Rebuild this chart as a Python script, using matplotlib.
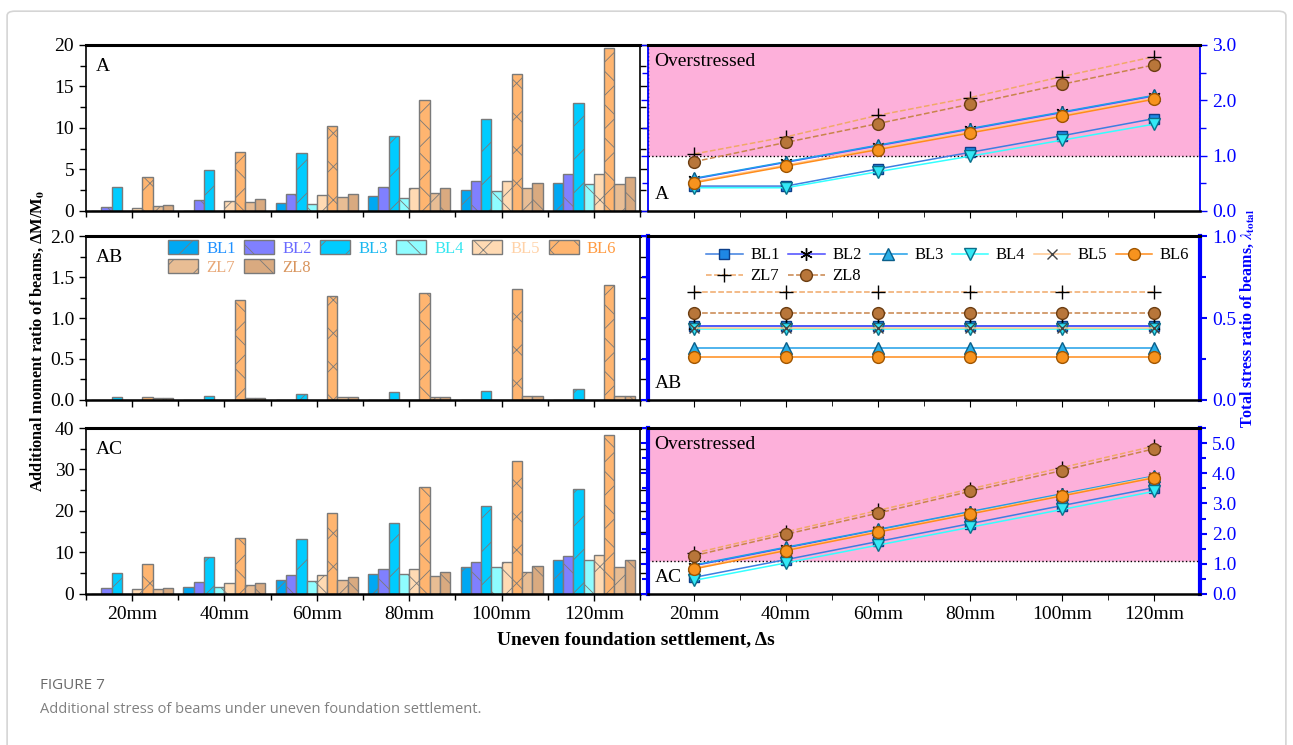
import numpy as np
import matplotlib.pyplot as plt
from matplotlib.patches import Rectangle, Patch, FancyBboxPatch
from matplotlib.ticker import MultipleLocator

plt.rcParams['font.family'] = 'Liberation Serif'
plt.rcParams['mathtext.fontset'] = 'stix'
plt.rcParams['hatch.linewidth'] = 0.6

settle = ['20mm', '40mm', '60mm', '80mm', '100mm', '120mm']
beams = ['BL1', 'BL2', 'BL3', 'BL4', 'BL5', 'BL6', 'ZL7', 'ZL8']

# additional moment ratio dM/M0, one row per beam
dm_A = [
    [0.0, 0.0, 0.97, 1.81, 2.54, 3.39],
    [0.48, 1.29, 2.10, 2.90, 3.67, 4.44],
    [2.86, 4.92, 6.98, 9.07, 11.05, 13.06],
    [0.0, 0.0, 0.81, 1.57, 2.38, 3.23],
    [0.32, 1.17, 1.94, 2.78, 3.59, 4.44],
    [4.07, 7.14, 10.24, 13.39, 16.49, 19.60],
    [0.56, 1.09, 1.69, 2.18, 2.78, 3.31],
    [0.73, 1.41, 2.02, 2.74, 3.39, 4.07],
]
dm_AB = [
    [0.005, 0.005, 0.005, 0.005, 0.005, 0.005],
    [0.005, 0.005, 0.005, 0.005, 0.005, 0.005],
    [0.037, 0.053, 0.074, 0.098, 0.115, 0.135],
    [0.005, 0.005, 0.005, 0.005, 0.005, 0.005],
    [0.005, 0.005, 0.005, 0.005, 0.005, 0.005],
    [0.035, 1.217, 1.266, 1.307, 1.352, 1.397],
    [0.020, 0.025, 0.037, 0.041, 0.053, 0.053],
    [0.020, 0.025, 0.037, 0.041, 0.053, 0.053],
]
dm_AC = [
    [0.0, 1.77, 3.31, 4.92, 6.53, 8.15],
    [1.37, 2.90, 4.52, 6.13, 7.66, 9.11],
    [5.00, 9.03, 13.15, 17.10, 21.30, 25.30],
    [0.0, 1.61, 3.15, 4.92, 6.45, 8.15],
    [1.13, 2.74, 4.52, 5.97, 7.66, 9.35],
    [7.18, 13.47, 19.60, 25.80, 32.00, 38.20],
    [1.13, 2.26, 3.31, 4.35, 5.40, 6.45],
    [1.37, 2.74, 4.03, 5.40, 6.77, 8.15],
]

# total stress ratio lambda_total, one row per beam
lam_A = [
    [0.45, 0.45, 0.76, 1.06, 1.36, 1.67],
    [0.58, 0.88, 1.18, 1.48, 1.78, 2.08],
    [0.59, 0.89, 1.19, 1.49, 1.79, 2.09],
    [0.42, 0.42, 0.71, 0.99, 1.28, 1.57],
    [0.53, 0.83, 1.13, 1.43, 1.73, 2.04],
    [0.51, 0.81, 1.11, 1.41, 1.71, 2.02],
    [1.03, 1.34, 1.73, 2.05, 2.43, 2.79],
    [0.89, 1.24, 1.58, 1.93, 2.29, 2.64],
]
lam_AB = [
    [0.45] * 6,
    [0.45] * 6,
    [0.32] * 6,
    [0.43] * 6,
    [0.44] * 6,
    [0.26] * 6,
    [0.66] * 6,
    [0.53] * 6,
]
lam_AC = [
    [0.55, 1.14, 1.74, 2.33, 2.93, 3.52],
    [0.94, 1.53, 2.12, 2.71, 3.30, 3.89],
    [0.96, 1.55, 2.14, 2.73, 3.32, 3.91],
    [0.45, 1.03, 1.62, 2.21, 2.80, 3.40],
    [0.86, 1.47, 2.08, 2.68, 3.28, 3.88],
    [0.83, 1.44, 2.05, 2.65, 3.25, 3.85],
    [1.35, 2.06, 2.77, 3.48, 4.19, 4.90],
    [1.27, 1.98, 2.68, 3.40, 4.09, 4.81],
]
limit_A = 1.0
limit_AC = 1.1

bar_colors = ['#00a8f3', '#8080ff', '#00ccff', '#8ffcff',
              '#ffdab3', '#ffb570', '#e8bd94', '#d9aa80']
bar_hatch = ['/', '\\', '/', '\\', 'x', 'x', '/', '\\']
text_colors = ['#1e90ff', '#6a6aff', '#1ab8f0', '#35e6f0',
               '#ffd2a8', '#ff9a40', '#e8a878', '#d8955e']

line_colors = ['#3d7ee0', '#4a4aff', '#1f9fe8', '#33ffff',
               '#ffc890', '#ff8c1a', '#f0a868', '#c8844a']
mk = ['s', (6, 2, 0), '^', 'v', 'x', 'o', '+', 'o']
mk_face = ['#1e88e5', 'k', '#29aee6', '#33e8f5', 'k', '#f7931e', 'k', '#b8763a']
mk_edge = ['#0d3f8a', 'k', '#0b5f8a', '#0b6f8a', '#444444', '#a05500', 'k', '#6b3d12']
mk_size = [7, 9, 9, 9, 7, 8.5, 10, 8.5]
ls = ['-', '-', '-', '-', '-', '-', '--', '--']

# legend runs BL1..BL6 on the first row, ZL7/ZL8 below
leg_order = [0, 6, 1, 7, 2, 3, 4, 5]

pink = '#fdb0da'
blue = '#0000ff'

fig = plt.figure(figsize=(12.93, 7.45), dpi=100)

# frame around the whole figure
fig.patches.append(FancyBboxPatch((0.0055, -0.05), 0.989, 1.035,
                                  boxstyle='round,pad=0,rounding_size=0.006',
                                  transform=fig.transFigure, fill=False,
                                  edgecolor='#d5d5d5', lw=1.2))

rows = [(0.7168, 0.2228), (0.4631, 0.2201), (0.2027, 0.2228)]
lx, lw_ = 0.0665, 0.4285
rx, rw = 0.5012, 0.4270

x = np.arange(1, 7)
width = 0.111


def bar_panel(ax, data, ymax, major, tag, labels):
    for i in range(8):
        ax.bar(x + (i - 3.5) * width, data[i], width, color=bar_colors[i],
               edgecolor='#7a7a7a', lw=1.0, hatch=bar_hatch[i], zorder=2)
    ax.set_xlim(0.5, 6.5)
    ax.set_ylim(0, ymax)
    ax.yaxis.set_major_locator(MultipleLocator(major))
    ax.yaxis.set_minor_locator(MultipleLocator(major / 2))
    ax.set_xticks(x)
    ax.set_xticks(np.arange(0.5, 7, 1), minor=True)
    ax.tick_params(axis='both', which='both', direction='out', labelsize=14,
                   right=True, width=1.0)
    ax.tick_params(which='major', length=5)
    ax.tick_params(which='minor', length=4)
    if labels:
        ax.set_xticklabels(settle)
    else:
        ax.set_xticklabels([])
    ax.spines['top'].set_linewidth(2.2)
    ax.spines['bottom'].set_linewidth(1.8)
    ax.spines['left'].set_linewidth(1.2)
    ax.spines['right'].set_linewidth(1.2)
    ax.text(0.018, 0.87, tag, transform=ax.transAxes, fontsize=14, va='center')


def line_panel(ax, data, ymax, major, tag, limit, labels, thick):
    if limit is not None:
        ax.add_patch(Rectangle((0.5, limit), 6.0, ymax - limit, facecolor=pink,
                               edgecolor='k', lw=1.0, ls=':', zorder=0))
        ax.text(0.012, 0.9, 'Overstressed', transform=ax.transAxes,
                fontsize=14, va='center')
    for i in range(8):
        ax.plot(x, data[i], color=line_colors[i], ls=ls[i], lw=1.1,
                marker=mk[i], ms=mk_size[i], mfc=mk_face[i], mec=mk_edge[i],
                mew=1.0, label=beams[i], zorder=3)
    ax.set_xlim(0.5, 6.5)
    ax.set_ylim(0, ymax)
    ax.yaxis.set_major_locator(MultipleLocator(major))
    ax.yaxis.set_minor_locator(MultipleLocator(major / 2))
    ax.set_xticks(x)
    ax.set_xticks(np.arange(1.5, 6.5, 1), minor=True)
    ax.yaxis.tick_right()
    ax.tick_params(axis='y', which='both', left=True, right=True,
                   labelleft=False, labelright=True, colors=blue,
                   direction='out', labelsize=14, width=1.5 if thick else 1.0)
    ax.tick_params(axis='x', which='both', direction='out', labelsize=14)
    ax.tick_params(which='major', length=5)
    ax.tick_params(which='minor', length=4)
    ax.yaxis.set_major_formatter('{x:.1f}')
    if labels:
        ax.set_xticklabels(settle)
    else:
        ax.set_xticklabels([])
    for side in ('left', 'right'):
        ax.spines[side].set_color(blue)
        ax.spines[side].set_linewidth(3.0 if thick else 1.3)
    ax.spines['top'].set_linewidth(2.2)
    ax.spines['bottom'].set_linewidth(1.8)
    ax.text(0.012, 0.1, tag, transform=ax.transAxes, fontsize=14, va='center')


axA = fig.add_axes([lx, rows[0][0], lw_, rows[0][1]])
axAB = fig.add_axes([lx, rows[1][0], lw_, rows[1][1]])
axAC = fig.add_axes([lx, rows[2][0], lw_, rows[2][1]])
bar_panel(axA, dm_A, 20, 5, 'A', False)
bar_panel(axAB, dm_AB, 2.0, 0.5, 'AB', False)
bar_panel(axAC, dm_AC, 40, 10, 'AC', True)
axAB.yaxis.set_major_formatter('{x:.1f}')

handles = [Patch(facecolor=bar_colors[i], edgecolor='#7a7a7a', hatch=bar_hatch[i],
                 label=beams[i]) for i in leg_order]
leg = axAB.legend(handles=handles, ncol=6, loc='upper left',
                  bbox_to_anchor=(0.148, 0.975), frameon=False, fontsize=12,
                  handlelength=1.8, handleheight=0.9, columnspacing=0.5,
                  handletextpad=0.5, labelspacing=0.15, borderaxespad=0,
                  borderpad=0)
for t, i in zip(leg.get_texts(), leg_order):
    t.set_color(text_colors[i])

bxA = fig.add_axes([rx, rows[0][0], rw, rows[0][1]])
bxAB = fig.add_axes([rx, rows[1][0], rw, rows[1][1]])
bxAC = fig.add_axes([rx, rows[2][0], rw, rows[2][1]])
line_panel(bxA, lam_A, 3.0, 1.0, 'A', limit_A, False, False)
line_panel(bxAB, lam_AB, 1.0, 0.5, 'AB', None, False, True)
line_panel(bxAC, lam_AC, 5.5, 1.0, 'AC', limit_AC, True, True)

lines = bxAB.get_lines()
bxAB.legend([lines[i] for i in leg_order], [beams[i] for i in leg_order],
            ncol=6, loc='upper left', bbox_to_anchor=(0.105, 0.93),
            frameon=False, fontsize=12, handlelength=2.2,
            columnspacing=0.5, handletextpad=0.45, labelspacing=0.3,
            borderaxespad=0, borderpad=0)

fig.text(0.029, 0.542, r'Additional moment ratio of beams, ΔM/M$_\mathbf{0}$',
         rotation=90, ha='center', va='center', fontsize=11.8, fontweight='bold')
fig.text(0.9645, 0.572, r'Total stress ratio of beams, $\lambda_{\mathbf{total}}$',
         rotation=90, ha='center', va='center', fontsize=11.5, fontweight='bold',
         color=blue)
fig.text(0.492, 0.141, 'Uneven foundation settlement, Δs', ha='center',
         va='center', fontsize=14, fontweight='bold')

fig.text(0.031, 0.0805, 'FIGURE 7', fontsize=11, color='#6a6a6a',
         family='Open Sans', va='center')
fig.text(0.031, 0.047, 'Additional stress of beams under uneven foundation settlement.',
         fontsize=10.5, color='#808080', family='Open Sans', va='center')

fig.savefig('out.png', dpi=100)
